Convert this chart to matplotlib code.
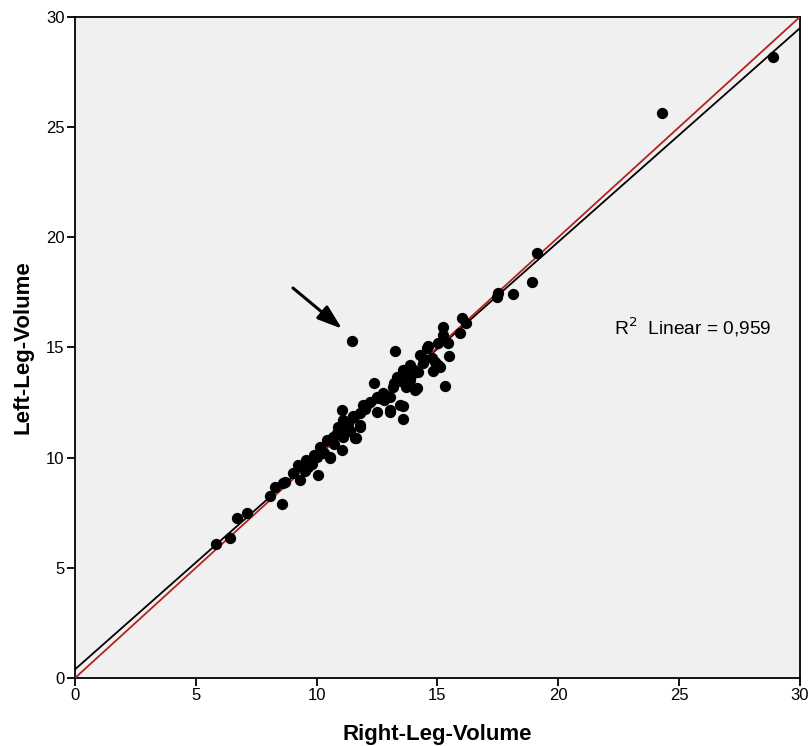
import numpy as np
import matplotlib.pyplot as plt

plt.rcParams['font.family'] = ['Liberation Sans', 'DejaVu Sans']

# leg volumes (right, left)
right_leg = [5.83, 6.41, 6.69, 7.10, 8.07, 8.27, 8.58, 8.62, 8.69, 9.03,
             9.24, 9.31, 9.58, 9.65, 9.80, 9.50, 10.00, 10.07, 10.14, 10.30,
             10.41, 10.55, 10.55, 10.69, 10.70, 10.90, 11.03, 11.03, 11.10, 11.10,
             11.31, 11.30, 11.47, 11.50, 11.51, 11.58, 11.65, 11.79, 11.79, 11.79,
             11.93, 12.00, 12.20, 12.38, 12.48, 12.48, 12.76, 12.80, 13.03, 13.03,
             13.03, 13.17, 13.24, 13.31, 13.45, 13.50, 13.58, 13.58, 13.58, 13.70,
             13.72, 13.86, 13.86, 14.00, 14.07, 14.14, 14.20, 14.27, 14.41, 14.58,
             14.62, 14.76, 14.83, 14.89, 15.03, 15.03, 15.10, 15.24, 15.24, 15.32,
             15.45, 15.47, 15.93, 16.00, 16.20, 17.45, 17.51, 18.11, 18.91, 19.14,
             24.29, 28.88, 11.20, 11.40, 10.85, 12.60, 13.20, 13.95, 14.45, 9.90]
left_leg = [6.07, 6.34, 7.24, 7.47, 8.24, 8.68, 7.90, 8.84, 8.91, 9.29,
            9.67, 8.99, 9.90, 9.59, 9.70, 9.40, 10.05, 9.21, 10.50, 10.20,
            10.80, 10.05, 9.97, 10.95, 10.60, 11.41, 12.17, 10.35, 11.71, 10.95,
            11.41, 11.60, 15.31, 11.90, 11.86, 10.88, 10.88, 12.01, 11.41, 11.48,
            12.39, 12.20, 12.54, 13.40, 12.77, 12.09, 12.92, 12.60, 12.77, 12.17,
            12.09, 13.22, 14.86, 13.68, 12.39, 13.50, 13.98, 12.35, 11.74, 13.70,
            13.22, 14.21, 13.53, 14.00, 13.07, 13.15, 13.90, 14.66, 14.28, 14.97,
            15.05, 14.51, 13.95, 14.36, 15.19, 14.21, 14.13, 15.95, 15.57, 13.25,
            15.19, 14.62, 15.65, 16.33, 16.10, 17.31, 17.46, 17.42, 17.96, 19.28,
            25.66, 28.20, 11.30, 11.20, 11.10, 12.70, 13.40, 13.80, 14.50, 10.10]

fit_intercept = 0.39
fit_slope = 0.97
r2_text = 'R$^2$  Linear = 0,959'

fig = plt.figure(figsize=(8.12, 7.46), dpi=100)
ax = fig.add_axes([0.0924, 0.0912, 0.8926, 0.8860])
ax.set_facecolor('#f0f0f0')

line_x = np.array([0, 30])
ax.plot(line_x, fit_intercept + fit_slope * line_x, color='black', lw=1.3, zorder=2)
ax.plot(line_x, line_x, color='#b22222', lw=1.3, zorder=3)
ax.scatter(right_leg, left_leg, s=66, color='black', zorder=4, linewidths=0)

ax.annotate('', xy=(11.05, 15.85), xytext=(9.02, 17.7),
            arrowprops=dict(arrowstyle='-|>,head_length=0.5,head_width=0.17',
                            color='black', lw=2.2,
                            mutation_scale=30, shrinkA=0, shrinkB=0))
ax.text(22.3, 15.93, r2_text, fontsize=13.8, va='center', ha='left')

ax.set_xlim(0, 30)
ax.set_ylim(0, 30)
ax.set_xticks(range(0, 31, 5))
ax.set_yticks(range(0, 31, 5))
ax.tick_params(direction='out', length=6, width=1.3, labelsize=12, pad=1.5)
for s in ax.spines.values():
    s.set_linewidth(1.3)

ax.set_xlabel('Right-Leg-Volume', fontsize=16, fontweight='bold', labelpad=15)
ax.set_ylabel('Left-Leg-Volume', fontsize=16, fontweight='bold', labelpad=9)

fig.savefig('out.png', dpi=100)
